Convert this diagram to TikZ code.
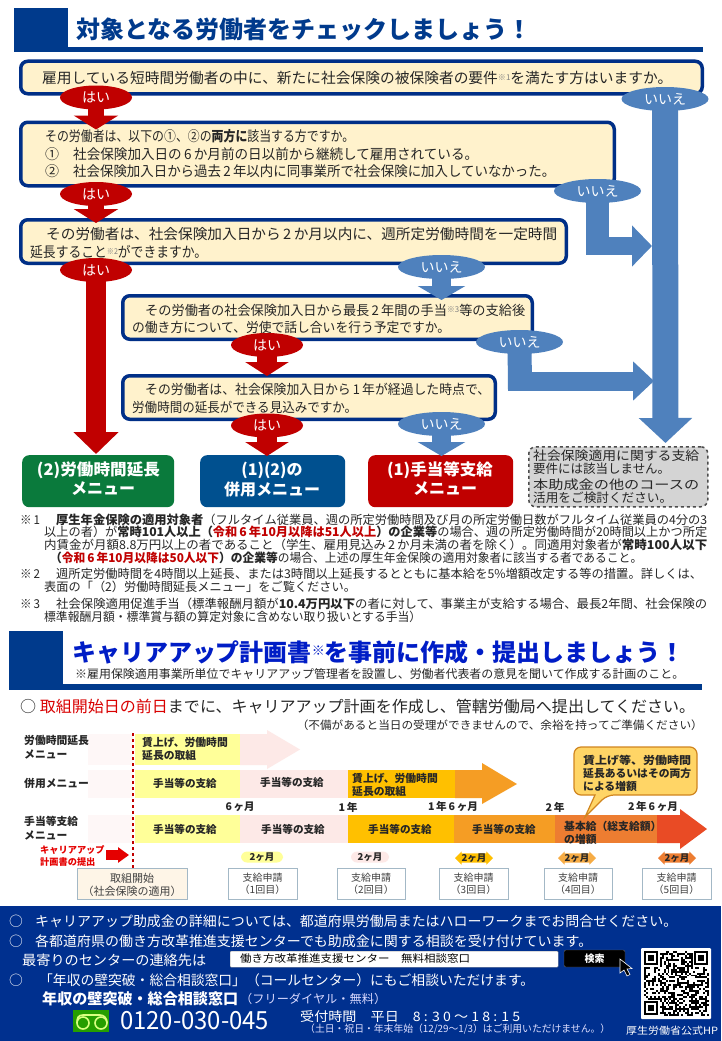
\documentclass[tikz,border=0pt]{standalone}
\usepackage{fontspec}
\usepackage{graphicx}
\setmainfont{Noto Sans CJK JP}
\usetikzlibrary{arrows.meta,shapes.geometric,shapes.arrows}
\pgfdeclarelayer{over}
\pgfsetlayers{main,over}
\newcommand\fs[1]{\fontsize{#1}{#1}\selectfont}
\newcommand\fitx[2]{\resizebox{#1pt}{\height}{#2}}
\newcommand\sm[1]{{\fs{8}\color{gray}\raisebox{3pt}{#1}}}
\definecolor{navy}{HTML}{003A8C}
\definecolor{boxline}{HTML}{002F87}
\definecolor{cream}{HTML}{FFF2CC}
\definecolor{redc}{HTML}{C00000}
\definecolor{bluec}{HTML}{4F81BD}
\definecolor{yel}{HTML}{FFFF99}
\definecolor{pinkc}{HTML}{FDE9E7}
\definecolor{gold}{HTML}{FFC000}
\definecolor{oran}{HTML}{F59D24}
\definecolor{dkor}{HTML}{ED7D31}
\definecolor{rdor}{HTML}{E94B25}
\definecolor{bandc}{HTML}{00308F}
\definecolor{mgreen}{HTML}{0A7A3C}
\definecolor{mblue}{HTML}{00508F}
\definecolor{stepline}{HTML}{A3B8C6}
\tikzset{
  t/.style={inner sep=0pt,anchor=west,text=black!85},
  c/.style={inner sep=0pt,anchor=center,text=black!85},
  w/.style={inner sep=0pt,anchor=west,text=white},
  q/.style={draw=boxline,line width=3.5pt,fill=cream,rounded corners=7pt},
  yes/.style={ellipse,fill=redc,text=white,inner sep=0pt,font=\fs{14},minimum width=72pt,minimum height=24pt},
  no/.style={ellipse,fill=bluec,text=white,inner sep=0pt,font=\fs{14},minimum width=87pt,minimum height=24pt},
  rarrow/.style={draw=redc,-{Triangle[width=44pt,length=14pt]}},
  barrow/.style={draw=bluec,-{Triangle[width=47pt,length=14pt]}},
  menu/.style={rounded corners=7pt,draw=none},
  mt/.style={inner sep=0pt,anchor=center,text=white,font=\fs{16}\bfseries},
  sbox/.style={draw=stepline,line width=1pt,fill=white},
  bold11/.style={inner sep=0pt,anchor=center,text=black!85,font=\fs{10.6}\bfseries},
  mon/.style={double arrow,double arrow head extend=2pt,inner sep=0pt,minimum height=38pt,minimum width=13pt,text=black!85,font=\fs{9.5}\bfseries},
}
\begin{document}
\begin{tikzpicture}[x=1pt,y=-1pt]
\useasboundingbox (0,0) rectangle (721,1041);
\fill[white] (0,0) rectangle (721,1041);
% --- header 1
\fill[navy] (14,8) rectangle (68,52);
\fill[navy] (14,47) rectangle (703,52);
\node[t,text=navy] (title1) at (76,29) {\fs{24}\bfseries\fitx{455}{対象となる労働者をチェックしましょう！}};
% --- question boxes
\node[q,minimum width=681.5pt,minimum height=32.5pt,anchor=north west] (b1) at (19,59.5) {};
\node[q,minimum width=593.5pt,minimum height=63.5pt,anchor=north west] (b2) at (19,120.5) {};
\node[q,minimum width=545.5pt,minimum height=43.5pt,anchor=north west] (b3) at (19,218) {};
\node[q,minimum width=409.5pt,minimum height=43.5pt,anchor=north west] (b4) at (121,294) {};
\node[q,minimum width=372.5pt,minimum height=43.5pt,anchor=north west] (b5) at (121,374) {};
\node[t] (b1t) at (42,77.5) {\fs{14.6}\fitx{630}{雇用している短時間労働者の中に、新たに社会保険の被保険者の要件\sm{※1}を満たす方はいますか。}};
\node[t] (b2a) at (45,136) {\fs{14}\fitx{309}{その労働者は、以下の①、②の\textbf{両方に}該当する方ですか。}};
\node[t] (b2b) at (45,154) {\fs{14}①};
\node[t] (b2bb) at (73,154) {\fs{14}\fitx{405}{社会保険加入日の\,6\,か月前の日以前から継続して雇用されている。}};
\node[t] (b2c) at (45,171) {\fs{14}②};
\node[t] (b2cc) at (73,171) {\fs{14}\fitx{482}{社会保険加入日から過去\,2\,年以内に同事業所で社会保険に加入していなかった。}};
\node[t] (b3a) at (46,234) {\fs{14.4}\fitx{511}{その労働者は、社会保険加入日から\,2\,か月以内に、週所定労働時間を一定時間}};
\node[t] (b3b) at (30,252) {\fs{14.4}\fitx{177}{延長すること\sm{※2}ができますか。}};
\node[t] (b4a) at (145,310) {\fs{13.4}\fitx{380}{その労働者の社会保険加入日から最長\,2\,年間の手当\sm{※3}等の支給後}};
\node[t] (b4b) at (132,327) {\fs{13.4}\fitx{318}{の働き方について、労使で話し合いを行う予定ですか。}};
\node[t] (b5a) at (145,389) {\fs{13.4}\fitx{345}{その労働者は、社会保険加入日から\,1\,年が経過した時点で、}};
\node[t] (b5b) at (132,407) {\fs{13.4}\fitx{225}{労働時間の延長ができる見込みですか。}};
% --- result boxes
\node[menu,fill=mgreen,minimum width=152pt,minimum height=52pt,anchor=north west] (m2) at (22,455) {};
\node[menu,fill=mblue,minimum width=145pt,minimum height=52pt,anchor=north west] (m12) at (200,455) {};
\node[menu,fill=redc,minimum width=145pt,minimum height=52pt,anchor=north west] (m1) at (368,455) {};
\node[draw=black!70,dashed,line width=1.5pt,fill=black!17,rounded corners=7pt,minimum width=179pt,minimum height=60pt,anchor=north west] (mg) at (528,446) {};
\node[mt] (m2a) at (98.5,470) {\fitx{123}{(2)労働時間延長}};
\node[mt] (m2b) at (103,489) {メニュー};
\node[mt] (m12a) at (272,470) {(1)(2)の};
\node[mt] (m12b) at (272,489) {併用メニュー};
\node[mt] (m1a) at (440,470) {\fitx{106}{(1)手当等支給}};
\node[mt] (m1b) at (445,489) {メニュー};
\node[t] (g1) at (533,455.5) {\fs{12.6}\fitx{166}{社会保険適用に関する支給}};
\node[t] (g2) at (533,468.5) {\fs{12.6}\fitx{137}{要件には該当しません。}};
\node[t] (g3) at (533,485) {\fs{12.6}\fitx{166}{本助成金の他のコースの}};
\node[t] (g4) at (533,498) {\fs{12.6}\fitx{139}{活用をご検討ください。}};
% --- answers, on the layer above the arrows
\begin{pgfonlayer}{over}
\node[yes] (y1) at (96,97.5) {はい};
\node[yes] (y2) at (96,194) {はい};
\node[yes] (y3) at (96,270) {はい};
\node[yes] (y4) at (267,345) {はい};
\node[yes] (y5) at (267,425.5) {はい};
\node[no] (n1) at (665,99) {いいえ};
\node[no] (n2) at (597.5,191) {いいえ};
\node[no] (n3) at (441.5,267) {いいえ};
\node[no] (n4) at (519.5,342) {いいえ};
\node[no] (n5) at (441.5,424) {いいえ};
\end{pgfonlayer}
% --- targets
\coordinate (ty1) at (96,129.5);
\coordinate (ty2) at (96,223);
\coordinate (ty3) at (96,454);
\coordinate (ty4) at (267,376);
\coordinate (ty5) at (267,456);
\coordinate (tn1) at (665.5,443);
\coordinate (tn2) at (652,246);
\coordinate (jn2) at (597.5,255);
\coordinate (sn2) at (586,246);
\coordinate (tn3) at (441.5,300);
\coordinate (tn4) at (654,381);
\coordinate (jn4) at (520,390);
\coordinate (sn4) at (508,381);
\coordinate (tn5) at (441.5,456);
% --- arrows
\draw[rarrow,line width=16pt] (y1.center) -- (ty1);
\draw[rarrow,line width=16pt] (y2.center) -- (ty2);
\draw[rarrow,line width=20pt,-{Triangle[width=44pt,length=22pt]}] (y3.center) -- (ty3);
\draw[rarrow,line width=20pt,-{Triangle[width=43pt,length=14pt]}] (y4.center) -- (ty4);
\draw[rarrow,line width=20pt,-{Triangle[width=43pt,length=14pt]}] (y5.center) -- (ty5);
\draw[barrow,line width=26pt,-{Triangle[width=52pt,length=25pt]}] (n1.center) -- (tn1);
\draw[draw=bluec,line width=23pt] (n2.center) -- (jn2);
\draw[barrow,line width=18pt,-{Triangle[width=40pt,length=20pt]}] (sn2) -- (tn2);
\draw[barrow,line width=19pt] (n3.center) -- (tn3);
\draw[draw=bluec,line width=24pt] (n4.center) -- (jn4);
\draw[barrow,line width=19pt,-{Triangle[width=38pt,length=21pt]}] (sn4) -- (tn4);
\draw[barrow,line width=19pt] (n5.center) -- (tn5);
% --- footnotes
\node[t] (f1m) at (20,520) {\fs{12.2}\fitx{20}{※\,1}};
\node[t] (f1a) at (56,520) {\fs{12.2}\fitx{651}{\textbf{厚生年金保険の適用対象者}（フルタイム従業員、週の所定労働時間及び月の所定労働日数がフルタイム従業員の4分の3}};
\node[t] (f1b) at (44,532) {\fs{12.2}\fitx{663}{以上の者）が\textbf{常時101人以上（\textcolor{redc}{令和\,6\,年10月以降は51人以上}）の企業等}の場合、週の所定労働時間が20時間以上かつ所定}};
\node[t] (f1c) at (44,545) {\fs{12.2}\fitx{663}{内賃金が月額8.8万円以上の者であること（学生、雇用見込み\,2\,か月未満の者を除く）。同適用対象者が\textbf{常時100人以下}}};
\node[t] (f1d) at (50,558) {\fs{12.2}\fitx{592}{\textbf{（\textcolor{redc}{令和\,6\,年10月以降は50人以下}）の企業等}の場合、上述の厚生年金保険の適用対象者に該当する者であること。}};
\node[t] (f2m) at (20,574) {\fs{12.2}\fitx{20}{※\,2}};
\node[t] (f2a) at (56,574) {\fs{12.2}\fitx{646}{週所定労働時間を4時間以上延長、または3時間以上延長するとともに基本給を5\%増額改定する等の措置。詳しくは、}};
\node[t] (f2b) at (44,587) {\fs{12.2}表面の「（2）労働時間延長メニュー」をご覧ください。};
\node[t] (f3m) at (20,604) {\fs{12.2}\fitx{20}{※\,3}};
\node[t] (f3a) at (56,604) {\fs{12.2}\fitx{651}{社会保険適用促進手当（標準報酬月額が\textbf{10.4万円以下}の者に対して、事業主が支給する場合、最長2年間、社会保険の}};
\node[t] (f3b) at (44,617) {\fs{12.2}\fitx{377}{標準報酬月額・標準賞与額の算定対象に含めない取り扱いとする手当）}};
% --- header 2
\fill[navy] (9,631) rectangle (63,690);
\fill[navy] (9,684) rectangle (702,690);
\node[t,text=blue!50!navy] (title2) at (72,652) {\fs{24}\bfseries\fitx{612}{キャリアアップ計画書{\fs{13}\raisebox{6pt}{※}}を事前に作成・提出しましょう！}};
\node[t] (sub2) at (75,674) {\fs{11.8}\fitx{609}{※雇用保険適用事業所単位でキャリアアップ管理者を設置し、労働者代表者の意見を聞いて作成する計画のこと。}};
\node[t] (lead) at (20,707) {\fs{15.8}\fitx{675}{○ \textcolor{red!85!black}{取組開始日の前日}までに、キャリアアップ計画を作成し、管轄労働局へ提出してください。}};
\node[inner sep=0pt,anchor=east,text=black!85] (lead2) at (703,725) {\fs{11.3}\fitx{406}{（不備があると当日の受理ができませんので、余裕を持ってご準備ください）}};
% --- timeline rows
\fill[pinkc!35] (88,734) rectangle (133,765);
\fill[pinkc!35] (88,770) rectangle (133,798);
\fill[pinkc!35] (88,815) rectangle (133,843);
\fill[yel] (135,734) rectangle (240,765);
\fill[pinkc] (240,734) -- (267,734) -- (267,730) -- (300,749.5) -- (267,769) -- (267,765) -- (240,765) -- cycle;
\fill[yel] (135,770) rectangle (240,798);
\fill[pinkc] (240,770) rectangle (348,798);
\fill[gold] (348,770) rectangle (455,798);
\fill[oran] (455,770) -- (482,770) -- (482,763) -- (517,784) -- (482,804) -- (482,798) -- (455,798) -- cycle;
\fill[yel] (135,815) rectangle (240,843);
\fill[pinkc] (240,815) rectangle (348,843);
\fill[gold] (348,815) rectangle (454,843);
\fill[oran] (454,815) rectangle (555,843);
\fill[dkor] (555,815) rectangle (657,843);
\fill[rdor] (657,815) -- (680,815) -- (680,809) -- (707,829) -- (680,849) -- (680,843) -- (657,843) -- cycle;
\coordinate (dtop) at (133,733);
\coordinate (dbot) at (133,868);
\draw[redc,line width=2.6pt,dash pattern=on 3pt off 3pt] (dtop) -- (dbot);
\node[t,text=black!85] (l1a) at (24,740) {\fs{10.8}\bfseries 労働時間延長};
\node[t] (l1b) at (24,754) {\fs{10.8}\bfseries メニュー};
\node[t] (l2) at (24,783) {\fs{10.8}\bfseries 併用メニュー};
\node[t] (l3a) at (24,821.5) {\fs{10.8}\bfseries 手当等支給};
\node[t] (l3b) at (24,835) {\fs{10.8}\bfseries メニュー};
\node[t] (r1a) at (142,742.5) {\fs{10.8}\bfseries 賃上げ、労働時間};
\node[t] (r1b) at (142,755.5) {\fs{10.8}\bfseries 延長の取組};
\node[bold11] (r2a) at (185,783) {手当等の支給};
\node[bold11] (r2b) at (292,782.5) {手当等の支給};
\node[t] (r2c) at (352,778.5) {\fs{10.8}\bfseries 賃上げ、労働時間};
\node[t] (r2d) at (352,791.5) {\fs{10.8}\bfseries 延長の取組};
\node[bold11] (r3a) at (185,829.5) {手当等の支給};
\node[bold11] (r3b) at (293,829) {手当等の支給};
\node[bold11] (r3c) at (400,829.5) {手当等の支給};
\node[bold11] (r3d) at (504,829.5) {手当等の支給};
\node[t] (r3e) at (564,826) {\fs{10.8}\bfseries 基本給（総支給額）};
\node[t] (r3f) at (564,839) {\fs{10.8}\bfseries の増額};
\node[bold11] (y6) at (240,807) {\fitx{29}{6\,ヶ月}};
\node[bold11] (y12) at (348,807) {\fitx{19}{1\,年}};
\node[bold11] (y18) at (453,807) {\fitx{50}{1\,年\,6\,ヶ月}};
\node[bold11] (y24) at (555,807) {\fitx{19}{2\,年}};
\node[bold11] (y30) at (653,807) {\fitx{50}{2\,年\,6\,ヶ月}};
% --- callout
\draw[draw=oran!85!black,fill=orange!55!yellow!60!white,line width=1.2pt,rounded corners=7pt]
  (574,747) -- (697,747) -- (697,795) -- (607,795) [sharp corners] -- (585,817) -- (595,795) [rounded corners=7pt] -- (574,795) -- cycle;
\node[t] (ca) at (583,760) {\fs{10.8}\bfseries\fitx{108}{賃上げ等、労働時間}};
\node[t] (cb) at (583,773) {\fs{10.8}\bfseries\fitx{108}{延長あるいはその両方}};
\node[t] (cc) at (583,786) {\fs{10.8}\bfseries による増額};
% --- submit label
\node[t,text=red!90!black] (sa) at (40,850) {\fs{9.2}\bfseries キャリアアップ};
\node[t,text=red!90!black] (sb) at (40,862) {\fs{9.2}\bfseries 計画書の提出};
\coordinate (sarr) at (106,855);
\coordinate (sdot) at (129,855);
\draw[draw=red!90!black,line width=10pt,-{Triangle[width=15pt,length=11pt]}] (sarr) -- (sdot);
% --- pills
\node[rounded corners=6pt,fill=yel,minimum width=42pt,minimum height=11pt,inner sep=0pt,text=black!85,font=\fs{9.5}\bfseries] (p1) at (262,857) {2ヶ月};
\node[rounded corners=6pt,fill=pinkc,minimum width=38pt,minimum height=11pt,inner sep=0pt,text=black!85,font=\fs{9.5}\bfseries] (p2) at (370,857) {2ヶ月};
\node[mon,fill=gold] (p3) at (474,858) {2ヶ月};
\node[mon,fill=oran!85!white] (p4) at (577,858) {2ヶ月};
\node[mon,fill=dkor] (p5) at (677,858) {2ヶ月};
% --- step boxes
\node[sbox,fill=yellow!8!orange!8!white,minimum width=110pt,minimum height=31pt,anchor=north west] (s0) at (77,868) {};
\node[c,text=black!75] (s0a) at (132,878) {\fs{11}取組開始};
\node[c,text=black!75] (s0b) at (132,891) {\fs{11}（社会保険の適用）};
\node[sbox,minimum width=69pt,minimum height=31pt,anchor=north west] (s1) at (228,868) {};
\node[sbox,minimum width=68pt,minimum height=31pt,anchor=north west] (s2) at (337,868) {};
\node[sbox,minimum width=69pt,minimum height=31pt,anchor=north west] (s3) at (439,868) {};
\node[sbox,minimum width=68pt,minimum height=31pt,anchor=north west] (s4) at (544,868) {};
\node[sbox,minimum width=69pt,minimum height=31pt,anchor=north west] (s5) at (642,868) {};
\foreach \n/\xx/\k in {1/262.5/1,2/371/2,3/473.5/3,4/578/4,5/676.5/5}{
  \node[c,text=black!75] (s\n a) at (\xx,878) {\fs{10}支給申請};
  \node[c,text=black!75] (s\n b) at (\xx,890) {\fs{10}（\k 回目）};
}
% --- footer band
\fill[bandc] (0,906) rectangle (721,1041);
\node[w] (fa0) at (9,921) {\fs{13.8}○};
\node[w] (fa) at (35,921) {\fs{13.8}\fitx{642}{キャリアアップ助成金の詳細については、都道府県労働局またはハローワークまでお問合せください。}};
\node[w] (fb0) at (9,941) {\fs{13.8}○};
\node[w] (fb) at (35,941) {\fs{13.8}\fitx{557}{各都道府県の働き方改革推進支援センターでも助成金に関する相談を受け付けています。}};
\node[w] (fc) at (22,960) {\fs{13.8}\fitx{184}{最寄りのセンターの連絡先は}};
\node[fill=white,draw=black!40,rounded corners=1pt,minimum width=328pt,minimum height=16pt,anchor=north west] (sf) at (230,951) {};
\node[t,text=black] (sft) at (240,959) {\fs{10.5}\fitx{230}{働き方改革推進支援センター　無料相談窓口}};
\node[fill=black,draw=black!60,rounded corners=2pt,minimum width=61pt,minimum height=17pt,inner sep=0pt,text=white,font=\fs{10}\bfseries] (sb2) at (594.5,958.5) {検索};
\fill[black,draw=white,line width=.6pt] (620,959) -- (620,973) -- (624,970) -- (627,976) -- (630,974.5) -- (627,969) -- (632,968.5) -- cycle;
\node[w] (fd0) at (9,980) {\fs{13.8}○};
\node[w] (fd) at (39,980) {\fs{13.8}\fitx{495}{「年収の壁突破・総合相談窓口」（コールセンター）にもご相談いただけます。}};
\node[w] (fe) at (42,999) {\fs{15}\bfseries\fitx{196}{年収の壁突破・総合相談窓口}};
\node[w,text=blue!15!white] (ff) at (240,999) {\fs{12}\fitx{146}{（フリーダイヤル・無料）}};
% free dial mark
\fill[green!55!black!85!yellow] (73,1010) rectangle (109,1032);
\draw[green!30!yellow!50!white,line width=1.6pt] (83,1023) circle (6);
\draw[green!30!yellow!50!white,line width=1.6pt] (101,1023) circle (6);
\draw[green!30!yellow!50!white,line width=1.6pt] (77,1023) .. controls (77,1018) and (78,1015) .. (83,1015) -- (100,1015) .. controls (104,1015) and (107,1018) .. (107,1023);
\node[w] (tel) at (120,1021) {\fs{25}\fitx{149}{0120-030-045}};
\node[w] (fg) at (300,1017) {\fs{13}\fitx{220}{受付時間　平日　8 : 3 0 ～ 1 8 : 1 5}};
\node[w,text=blue!12!white] (fh) at (305,1029) {\fs{10}\fitx{305}{（土日・祝日・年末年始（12/29～1/3）はご利用いただけません。）}};
\node[w] (fi) at (626,1031) {\fs{10}\fitx{92}{厚生労働省公式HP}};
% --- QR
\fill[white,rounded corners=1pt] (641,948) rectangle (711,1019);
\begin{scope}[shift={(644,951)}]
\pgfmathsetseed{4242}
\foreach \i in {0,...,32}{\foreach \j in {0,...,32}{
  \pgfmathparse{rnd<0.5?1:0}
  \ifnum\pgfmathresult=1 \fill[black] (\i*1.96,\j*1.96) rectangle ++(1.96,1.96);\fi
}}
\foreach \a/\b in {0/0,25.5/0,0/25.5}{
  \fill[white] (\a*1.96-0.5,\b*1.96-0.5) rectangle ++(16.5,16.5);
  \fill[black] (\a*1.96,\b*1.96) rectangle ++(13.7,13.7);
  \fill[white] (\a*1.96+1.96,\b*1.96+1.96) rectangle ++(9.8,9.8);
  \fill[black] (\a*1.96+3.92,\b*1.96+3.92) rectangle ++(5.88,5.88);
}
\end{scope}
\end{tikzpicture}
\end{document}
